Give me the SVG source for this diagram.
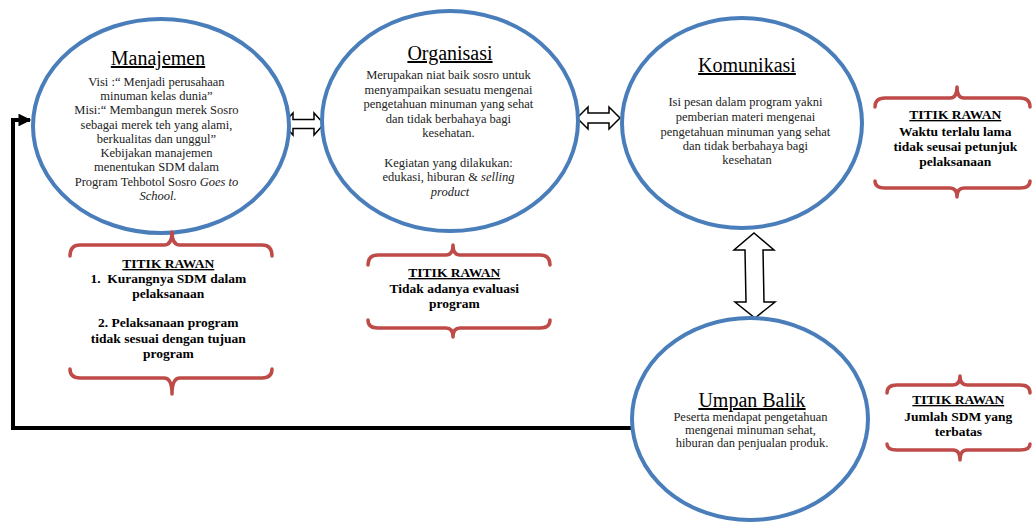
<svg xmlns="http://www.w3.org/2000/svg" width="1033" height="522" viewBox="0 0 1033 522">
<style>
.node{fill:#fff;stroke:#4A7EBB;stroke-width:4}
.brace{fill:none;stroke:#BE4B48;stroke-width:3.5;stroke-linecap:round;stroke-linejoin:round}
.title{font-family:"Liberation Serif","Times New Roman",serif;font-size:20px;text-anchor:middle;text-decoration:underline;fill:#000}
.body{font-family:"Liberation Serif","Times New Roman",serif;font-size:12.5px;text-anchor:middle;fill:#222}
.warn{font-family:"Liberation Serif","Times New Roman",serif;font-size:13.5px;font-weight:bold;text-anchor:middle;fill:#000;white-space:pre}
.u{text-decoration:underline}
.it{font-style:italic}
.dbl{fill:#fff;stroke:#000;stroke-width:1.5;stroke-linejoin:miter}
.line{fill:none;stroke:#000;stroke-width:4}
</style>
<defs>
<marker id="ah" viewBox="0 0 10 10" refX="9" refY="5" markerWidth="4" markerHeight="3.2" orient="auto" markerUnits="strokeWidth">
<path d="M0,0 L10,5 L0,10 Z" fill="#000"/>
</marker>
</defs>
<rect width="1033" height="522" fill="#fff"/>

<g id="connectors">
<path class="line" d="M632,428 H13 V120 H30" marker-end="url(#ah)"/>
<polygon class="dbl" points="283,124 293,113 293,119.5 314,119.5 314,113 324,124 314,135 314,128.5 293,128.5 293,135"/>
<polygon class="dbl" points="577,118 588,107 588,113 609,113 609,107 620,118 609,129 609,123 588,123 588,129"/>
<polygon class="dbl" points="754,233 774,250 763,250 764,302 775,302 755,318 735,302 746,302 745,250 734,250"/>
</g>

<g id="manajemen">
<ellipse class="node" cx="161" cy="126" rx="128" ry="107"/>
<text class="title" x="158" y="65">Manajemen</text>
<text class="body">
<tspan x="158" y="86">Visi :“ Menjadi perusahaan</tspan>
<tspan x="158" y="100">minuman kelas dunia”</tspan>
<tspan x="158" y="114">Misi:“ Membangun merek Sosro</tspan>
<tspan x="158" y="129">sebagai merek teh yang alami,</tspan>
<tspan x="158" y="143">berkualitas dan unggul”</tspan>
<tspan x="158" y="157">Kebijakan manajemen</tspan>
<tspan x="158" y="171">menentukan SDM dalam</tspan>
<tspan x="158" y="186">Program Tehbotol Sosro <tspan class="it">Goes to</tspan></tspan>
<tspan x="158" y="200" class="it">School.</tspan>
</text>
</g>

<g id="organisasi">
<ellipse class="node" cx="450" cy="121" rx="128" ry="110"/>
<text class="title" x="450" y="60">Organisasi</text>
<text class="body">
<tspan x="450" y="79">Merupakan niat baik sosro untuk</tspan>
<tspan x="450" y="94">menyampaikan sesuatu mengenai</tspan>
<tspan x="450" y="108">pengetahuan minuman yang sehat</tspan>
<tspan x="450" y="123">dan tidak berbahaya bagi</tspan>
<tspan x="450" y="137">kesehatan.</tspan>
<tspan x="450" y="167">Kegiatan yang dilakukan:</tspan>
<tspan x="450" y="181">edukasi, hiburan &amp; <tspan class="it">selling</tspan></tspan>
<tspan x="450" y="196" class="it">product</tspan>
</text>
</g>

<g id="komunikasi">
<ellipse class="node" cx="742" cy="123" rx="120" ry="105"/>
<text class="title" x="747" y="72">Komunikasi</text>
<text class="body">
<tspan x="747" y="106">Isi pesan dalam program yakni</tspan>
<tspan x="747" y="121">pemberian materi mengenai</tspan>
<tspan x="747" y="136">pengetahuan minuman yang sehat</tspan>
<tspan x="747" y="150">dan tidak berbahaya bagi</tspan>
<tspan x="747" y="164">kesehatan</tspan>
</text>
</g>

<g id="umpan-balik">
<ellipse class="node" cx="750" cy="419" rx="118" ry="101"/>
<text class="title" x="752" y="407">Umpan Balik</text>
<text class="body">
<tspan x="752" y="421">Peserta mendapat pengetahuan</tspan>
<tspan x="752" y="434">mengenai minuman sehat,</tspan>
<tspan x="752" y="447">hiburan dan penjualan produk.</tspan>
</text>
</g>

<g id="titik-rawan-manajemen">
<path class="brace" d="M70,256 Q70,245 80,245 L164,245 Q172,245 172,232 Q172,245 180,245 L262,245 Q272,245 272,256"/>
<path class="brace" d="M70,369 Q70,378 80,378 L164,378 Q172,378 172,394 Q172,378 180,378 L262,378 Q272,378 272,369"/>
<text class="warn">
<tspan x="170" y="268" class="u">TITIK RAWAN</tspan>
<tspan x="170" y="283">1.  Kurangnya SDM dalam</tspan>
<tspan x="170" y="298">pelaksanaan</tspan>
<tspan x="170" y="327">2. Pelaksanaan program</tspan>
<tspan x="170" y="343">tidak sesuai dengan tujuan</tspan>
<tspan x="170" y="358">program</tspan>
</text>
</g>

<g id="titik-rawan-organisasi">
<path class="brace" d="M368,265 Q368,255 378,255 L446,255 Q453,255 453,245 Q453,255 460,255 L540,255 Q550,255 550,265"/>
<path class="brace" d="M368,320 Q368,328 378,328 L446,328 Q453,328 453,337 Q453,328 460,328 L540,328 Q550,328 550,320"/>
<text class="warn">
<tspan x="456" y="277" class="u">TITIK RAWAN</tspan>
<tspan x="456" y="293">Tidak adanya evaluasi</tspan>
<tspan x="456" y="308">program</tspan>
</text>
</g>

<g id="titik-rawan-komunikasi">
<path class="brace" d="M875,107 Q875,98 885,98 L950,98 Q957,98 957,87 Q957,98 964,98 L1020,98 Q1030,98 1030,107"/>
<path class="brace" d="M875,181 Q875,188 885,188 L950,188 Q957,188 957,197 Q957,188 964,188 L1020,188 Q1030,188 1030,181"/>
<text class="warn">
<tspan x="957" y="119" class="u">TITIK RAWAN</tspan>
<tspan x="957" y="136">Waktu terlalu lama</tspan>
<tspan x="957" y="151">tidak seusai petunjuk</tspan>
<tspan x="957" y="166">pelaksanaan</tspan>
</text>
</g>

<g id="titik-rawan-umpan-balik">
<path class="brace" d="M887,393 Q887,385 897,385 L953,385 Q960,385 960,376 Q960,385 967,385 L1020,385 Q1030,385 1030,393"/>
<path class="brace" d="M887,444 Q887,450 897,450 L953,450 Q960,450 960,460 Q960,450 967,450 L1020,450 Q1030,450 1030,444"/>
<text class="warn">
<tspan x="960" y="404" class="u">TITIK RAWAN</tspan>
<tspan x="960" y="421">Jumlah SDM yang</tspan>
<tspan x="960" y="436">terbatas</tspan>
</text>
</g>
</svg>
